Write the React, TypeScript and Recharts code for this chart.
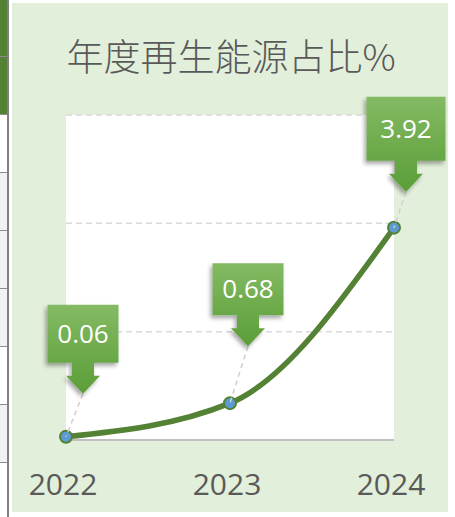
import { CartesianGrid, LabelList, Line, LineChart, XAxis, YAxis } from "recharts";

// 年度再生能源占比
const years = ["2022", "2023", "2024"];
const shares = [0.06, 0.68, 3.92];
const yTicks = [0, 2, 4, 6];

const data = years.map((year, i) => ({ year, share: shares[i] }));

// where each callout was dragged to (arrow tip relative to its point) and its box size
const callouts = [
  { dx: 17, dy: -43, w: 71, h: 58 },
  { dx: 18, dy: -57, w: 71, h: 52 },
  { dx: 12, dy: -36, w: 79, h: 64 },
];

// bit of the spreadsheet grid peeking in at the left edge
const sheetRows = ["#548235", "#548235", "#fff", "#F2F2F2", "#F2F2F2", "#F2F2F2", "#fff", "#F2F2F2", "#fff"];

const GREY_TEXT = "#595959";

function YearTick(props: any) {
  const { x, y, payload } = props;
  return (
    <text
      x={x - 3}
      y={y + 47}
      textAnchor="middle"
      fill={GREY_TEXT}
      fontSize={30}
      fontFamily="'Open Sans', sans-serif"
    >
      {payload.value}
    </text>
  );
}

function Callout(props: any) {
  const { x, y, value, index } = props;
  const c = callouts[index];
  if (!c) return null;
  const tx = x + c.dx;
  const ty = y + c.dy;
  const headH = 18;
  const stemH = 13;
  const bb = ty - headH - stemH;
  const bt = bb - c.h;
  const bl = tx - c.w / 2;
  const br = tx + c.w / 2;
  const d = [
    `M${bl},${bt}`,
    `H${br}`,
    `V${bb}`,
    `H${tx + 11}`,
    `V${bb + stemH}`,
    `H${tx + 17}`,
    `L${tx},${ty}`,
    `L${tx - 17},${bb + stemH}`,
    `H${tx - 11}`,
    `V${bb}`,
    `H${bl}`,
    "Z",
  ].join(" ");
  return (
    <g>
      <line x1={tx} y1={ty} x2={x} y2={y} stroke="#D0D0D0" strokeWidth={1.5} strokeDasharray="5 4" />
      <path d={d} fill="url(#calloutFill)" filter="url(#calloutShadow)" />
      <text
        x={tx}
        y={bt + c.h / 2 + 9}
        textAnchor="middle"
        fill="#fff"
        fontSize={26}
        fontFamily="'Open Sans', sans-serif"
      >
        {value.toFixed(2)}
      </text>
    </g>
  );
}

export default function App() {
  return (
    <div style={{ position: "absolute", left: 0, top: 0, width: 455, height: 517, background: "#fff", overflow: "hidden" }}>
      {/* sheet edge */}
      <div style={{ position: "absolute", left: 0, top: 0, width: 7, height: 517 }}>
        {sheetRows.map((bg, i) => (
          <div
            key={i}
            style={{
              position: "absolute",
              left: 0,
              top: i * 58 - 1,
              width: 7,
              height: 57,
              background: bg,
              borderBottom: "1.5px solid #8C8C8C",
            }}
          />
        ))}
      </div>
      <div style={{ position: "absolute", left: 7, top: 0, width: 2, height: 517, background: "#808080" }} />

      <div style={{ position: "absolute", left: 12, top: 3, width: 436, height: 509, background: "#E2EFDA" }}>
        <LineChart width={436} height={509} data={data} margin={{ top: 112, right: 54, bottom: 0, left: 54 }}>
          <CartesianGrid vertical={false} stroke="#D9D9D9" strokeWidth={1.5} strokeDasharray="6 4" fill="#fff" />
          <XAxis
            dataKey="year"
            interval={0}
            height={72}
            tickLine={false}
            axisLine={{ stroke: "#BFBFBF", strokeWidth: 2 }}
            tick={<YearTick />}
          />
          <YAxis hide domain={[0, 6]} ticks={yTicks} />
          <Line
            type="monotone"
            dataKey="share"
            stroke="#548235"
            strokeWidth={5.5}
            dot={{ r: 6, fill: "#5B9BD5", stroke: "#548235", strokeWidth: 2 }}
            activeDot={false}
            isAnimationActive={false}
          >
            <LabelList dataKey="share" content={<Callout />} />
          </Line>
        </LineChart>
      </div>

      <svg width={455} height={517} style={{ position: "absolute", left: 0, top: 0, pointerEvents: "none" }}>
        <defs>
          <linearGradient id="calloutFill" x1="0" y1="0" x2="0" y2="1">
            <stop offset="0%" stopColor="#84BA63" />
            <stop offset="100%" stopColor="#5A9E37" />
          </linearGradient>
          <filter id="calloutShadow" x="-30%" y="-30%" width="160%" height="160%">
            <feDropShadow dx={-2} dy={3} stdDeviation={2} floodColor="#000" floodOpacity={0.35} />
          </filter>
        </defs>
        <text
          x={231}
          y={71}
          textAnchor="middle"
          fill={GREY_TEXT}
          fontSize={37}
          fontWeight={300}
          fontFamily="'Noto Sans CJK TC', 'Noto Sans CJK SC', sans-serif"
        >
          年度再生能源占比%
        </text>
      </svg>
    </div>
  );
}
